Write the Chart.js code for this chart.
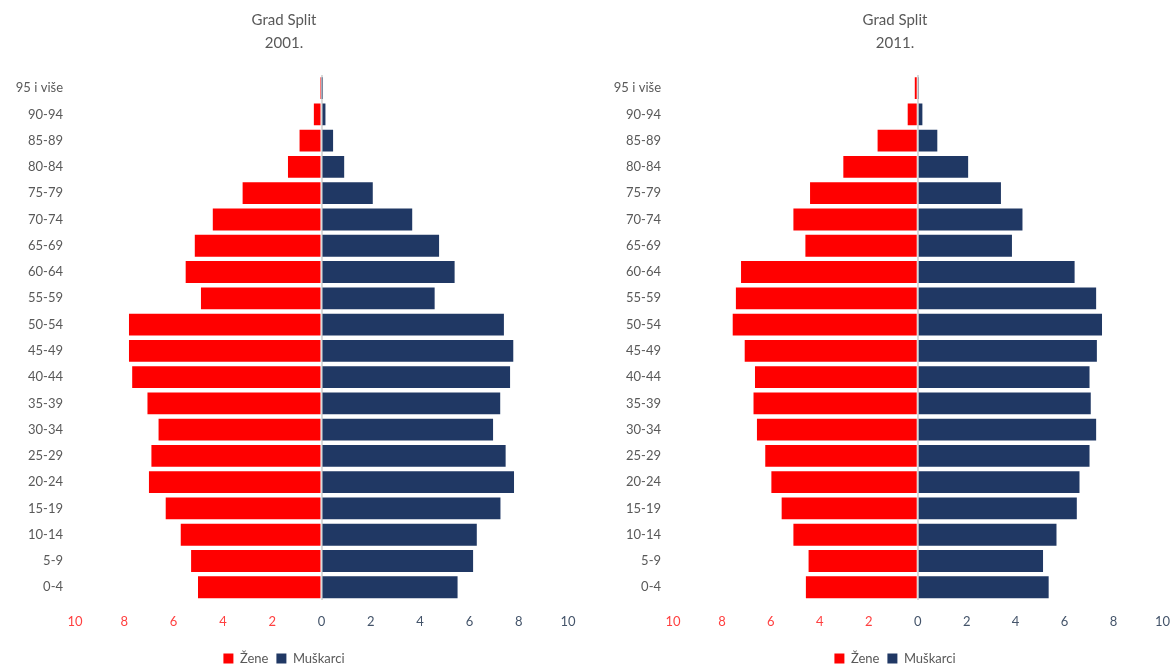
<!DOCTYPE html>
<html>
<head>
<meta charset="utf-8">
<script src="https://cdn.jsdelivr.net/npm/chart.js@4"></script>
<style>
  html, body { margin: 0; padding: 0; background: #fff; }
  body { width: 1176px; height: 666px; position: relative; overflow: hidden; }
  .box { position: absolute; top: 0; height: 675px; }
  #box2001 { left: 0; width: 592px; }
  #box2011 { left: 606px; width: 578px; }
</style>
</head>
<body>
<div class="box" id="box2001"><canvas id="chart2001"></canvas></div>
<div class="box" id="box2011"><canvas id="chart2011"></canvas></div>
<script>
// Age pyramid, Grad Split, 2001 vs 2011 (share of population, %)
const ageGroups = ['95 i više', '90-94', '85-89', '80-84', '75-79', '70-74', '65-69', '60-64',
  '55-59', '50-54', '45-49', '40-44', '35-39', '30-34', '25-29', '20-24', '15-19', '10-14', '5-9', '0-4'];

const women2001 = [0.02, 0.31, 0.89, 1.36, 3.20, 4.41, 5.14, 5.51, 4.89, 7.81,
  7.81, 7.68, 7.06, 6.61, 6.90, 7.00, 6.32, 5.71, 5.29, 5.01];
const men2001 = [0.01, 0.16, 0.47, 0.92, 2.08, 3.68, 4.77, 5.40, 4.59, 7.40,
  7.78, 7.65, 7.25, 6.96, 7.47, 7.81, 7.26, 6.30, 6.15, 5.52];

const women2011 = [0.12, 0.41, 1.64, 3.04, 4.40, 5.08, 4.59, 7.22, 7.43, 7.56,
  7.07, 6.65, 6.71, 6.57, 6.23, 5.98, 5.56, 5.08, 4.46, 4.57];
const men2011 = [0.03, 0.19, 0.80, 2.06, 3.40, 4.28, 3.85, 6.41, 7.29, 7.53,
  7.32, 7.02, 7.07, 7.29, 7.02, 6.61, 6.50, 5.67, 5.12, 5.35];

const seriesNames = ['Žene', 'Muškarci'];
const TEXT = '#595959';
const FONT = "Lato, 'Open Sans', sans-serif";

function makePyramid(canvasId, year, women, men, yWidth, padRight) {
  return new Chart(document.getElementById(canvasId), {
    type: 'bar',
    data: {
      labels: ageGroups,
      datasets: [
        { label: seriesNames[0], data: women.map(v => -v), backgroundColor: '#FF0000' },
        { label: seriesNames[1], data: men, backgroundColor: '#203864' }
      ]
    },
    options: {
      indexAxis: 'y',
      responsive: true,
      maintainAspectRatio: false,
      animation: false,
      categoryPercentage: 1,
      barPercentage: 0.83,
      layout: { padding: { top: 0, right: padRight, bottom: 0, left: 0 } },
      plugins: {
        title: {
          display: true,
          text: ['Grad Split', year],
          color: TEXT,
          font: { family: FONT, size: 15, weight: 'normal', lineHeight: 1.5 },
          padding: { top: 9, bottom: 21 }
        },
        legend: {
          position: 'bottom',
          labels: {
            color: TEXT,
            font: { family: FONT, size: 13 },
            boxWidth: 10,
            boxHeight: 10,
            padding: 8
          }
        },
        tooltip: { enabled: false }
      },
      scales: {
        x: {
          stacked: true,
          min: -10,
          max: 10,
          ticks: {
            stepSize: 2,
            padding: 14,
            font: { family: FONT, size: 13 },
            color: ctx => ctx.tick && ctx.tick.value < 0 ? '#FF4040' : '#44546A',
            callback: v => Math.abs(v)
          },
          grid: {
            drawTicks: false,
            color: ctx => ctx.tick && ctx.tick.value === 0 ? '#D9D9D9' : 'rgba(0,0,0,0)',
            lineWidth: 2
          },
          border: { display: false }
        },
        y: {
          stacked: true,
          afterFit: s => { s.width = yWidth; },
          ticks: {
            color: TEXT,
            font: { family: FONT, size: 13 },
            padding: 12
          },
          grid: { display: false, drawTicks: false },
          border: { display: false }
        }
      }
    }
  });
}

makePyramid('chart2001', '2001.', women2001, men2001, 75, 24);
makePyramid('chart2011', '2011.', women2011, men2011, 67, 0);
</script>
</body>
</html>
